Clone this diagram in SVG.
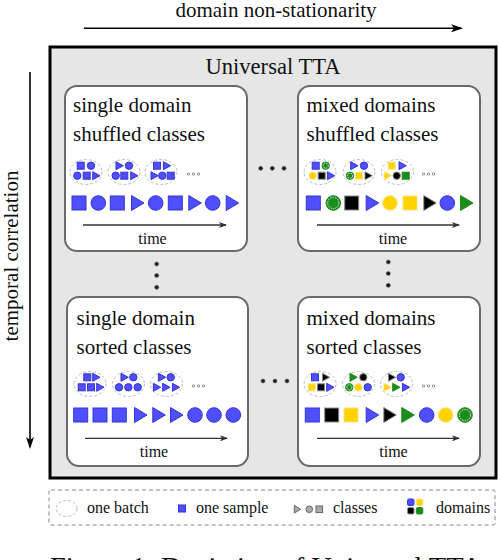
<svg xmlns="http://www.w3.org/2000/svg" xmlns:xlink="http://www.w3.org/1999/xlink" width="498" height="560" viewBox="0 0 498 560">
<style>
text{font-family:"Liberation Serif","Times New Roman",serif;fill:#111}
.t21{font-size:21px}
.t23{font-size:22.6px}
.t16{font-size:16px}
.panel{fill:#fff;stroke:#6a6a6a;stroke-width:2}
.batch{fill:#fff;stroke:#bdbdbd;stroke-width:1;stroke-dasharray:3 2}
.b{fill:#4f4fff;stroke:#3434d8;stroke-width:1}
.y{fill:#ffd200;stroke:#ffe37f;stroke-width:1}
.k{fill:#000;stroke:#8a8a8a;stroke-width:1}
.g{fill:#1c8c1c;stroke:#1c8c1c;stroke-width:1}
.gr{fill:none;stroke:#fff;stroke-width:0.8;stroke-dasharray:1.5 1}
.gy{fill:#aaa;stroke:#666;stroke-width:1}
.ell{fill:none;stroke:#777;stroke-width:0.8}
.sep{fill:#1a1a1a;stroke:#777;stroke-width:0.6}
.ax{stroke:#000;stroke-width:1.6;fill:none}
.tl{stroke:#333;stroke-width:1.3;fill:none}
</style>
<defs>
<rect id="S" x="-7" y="-7" width="14" height="14"/>
<circle id="C" r="7.3"/>
<polygon id="T" points="-5.5,-7.5 7,0 -5.5,7.5"/>
<rect id="s" x="-3.5" y="-3.5" width="7" height="7"/>
<circle id="c" r="3.7"/>
<polygon id="t" points="-3.3,-4 4,0 -3.3,4"/>
<g id="GC"><circle r="7.3" class="g"/><circle r="5.6" class="gr"/></g>
<g id="gc"><circle r="3.7" class="g"/><circle r="2.6" class="gr"/></g>
<marker id="big" viewBox="0 0 12 8" refX="10" refY="4" markerWidth="12" markerHeight="8" markerUnits="userSpaceOnUse" orient="auto">
<path d="M0,0 L12,4 L0,8 L3,4 z" fill="#000"/>
</marker>
<marker id="sm" viewBox="0 0 8 6" refX="7" refY="3" markerWidth="8" markerHeight="6" markerUnits="userSpaceOnUse" orient="auto">
<path d="M0,0 L8,3 L0,6 L2,3 z" fill="#333"/>
</marker>
</defs>

<g id="axes">
<text class="t21" x="276" y="17" text-anchor="middle">domain non-stationarity</text>
<line class="ax" x1="84" y1="28.3" x2="461" y2="28.3" marker-end="url(#big)"/>
<text class="t21" transform="translate(18,256) rotate(-90)" text-anchor="middle">temporal correlation</text>
<line class="ax" x1="30" y1="72" x2="30" y2="447" marker-end="url(#big)"/>
</g>

<g id="universal">
<rect x="50" y="47" width="446" height="431" fill="#e6e6e6" stroke="#000" stroke-width="3"/>
<text class="t23" x="273" y="73.5" text-anchor="middle">Universal TTA</text>
</g>

<g id="connectors">
<circle class="sep" cx="260.7" cy="168.3" r="2.1"/><circle class="sep" cx="272.3" cy="168.3" r="2.1"/><circle class="sep" cx="284" cy="168.3" r="2.1"/>
<circle class="sep" cx="263" cy="381" r="2.1"/><circle class="sep" cx="275" cy="381" r="2.1"/><circle class="sep" cx="287" cy="381" r="2.1"/>
<circle class="sep" cx="156.7" cy="264" r="2.1"/><circle class="sep" cx="156.7" cy="275.5" r="2.1"/><circle class="sep" cx="156.7" cy="287.3" r="2.1"/>
<circle class="sep" cx="388.3" cy="262" r="2.1"/><circle class="sep" cx="388.3" cy="273.5" r="2.1"/><circle class="sep" cx="388.3" cy="285.3" r="2.1"/>
</g>

<g id="panel-single-shuffled">
<rect class="panel" x="65" y="86" width="182" height="165" rx="12"/>
<text class="t21" x="73" y="112">single domain</text>
<text class="t21" x="73" y="140.5">shuffled classes</text>
<ellipse class="batch" cx="86" cy="172" rx="16" ry="12.5"/>
<use href="#s" class="b" x="80.7" y="165.7"/><use href="#c" class="b" x="91" y="165.7"/><use href="#c" class="b" x="77.3" y="175.7"/><use href="#s" class="b" x="86.7" y="175.7"/><use href="#t" class="b" x="96" y="175.7"/>
<ellipse class="batch" cx="124" cy="172" rx="16" ry="12.5"/>
<use href="#t" class="b" x="119.3" y="165.7"/><use href="#c" class="b" x="129" y="165.7"/><use href="#c" class="b" x="115.7" y="175.7"/><use href="#s" class="b" x="124.3" y="175.7"/><use href="#t" class="b" x="134" y="175.7"/>
<ellipse class="batch" cx="161" cy="172" rx="16" ry="12.5"/>
<use href="#s" class="b" x="157" y="165.7"/><use href="#t" class="b" x="166.7" y="165.7"/><use href="#t" class="b" x="154.3" y="175.7"/><use href="#c" class="b" x="162.3" y="175.7"/><use href="#s" class="b" x="170.7" y="175.7"/>
<circle class="ell" cx="188.5" cy="174" r="1.2"/><circle class="ell" cx="193.5" cy="174" r="1.2"/><circle class="ell" cx="198.5" cy="174" r="1.2"/>
<use href="#S" class="b" x="79" y="203"/><use href="#C" class="b" x="98.3" y="203"/><use href="#S" class="b" x="117.3" y="203"/><use href="#T" class="b" x="137" y="203"/><use href="#C" class="b" x="155.7" y="203"/><use href="#S" class="b" x="175.3" y="203"/><use href="#T" class="b" x="194.3" y="203"/><use href="#C" class="b" x="212.7" y="203"/><use href="#T" class="b" x="231.7" y="203"/>
<line class="tl" x1="83" y1="225" x2="226" y2="225" marker-end="url(#sm)"/>
<text class="t16" x="152.5" y="244" text-anchor="middle">time</text>
</g>

<g id="panel-mixed-shuffled">
<rect class="panel" x="298" y="86" width="182" height="165" rx="12"/>
<text class="t21" x="306.5" y="112">mixed domains</text>
<text class="t21" x="306.5" y="140.5">shuffled classes</text>
<ellipse class="batch" cx="320" cy="172" rx="16" ry="12.5"/>
<use href="#s" class="b" x="315.7" y="165.7"/><use href="#gc" x="325.7" y="165.7"/><use href="#c" class="y" x="312.7" y="175.7"/><use href="#s" class="k" x="321.7" y="175.7"/><use href="#t" class="b" x="330.7" y="175.7"/>
<ellipse class="batch" cx="359" cy="172" rx="16" ry="12.5"/>
<use href="#t" class="b" x="354" y="165.7"/><use href="#c" class="b" x="364" y="165.7"/><use href="#gc" x="350" y="175.7"/><use href="#s" class="y" x="359" y="175.7"/><use href="#t" class="k" x="368.3" y="175.7"/>
<ellipse class="batch" cx="397.5" cy="172" rx="16" ry="12.5"/>
<use href="#s" class="y" x="391.7" y="165.7"/><use href="#t" class="b" x="402.3" y="165.7"/><use href="#t" class="y" x="387.7" y="175.7"/><use href="#c" class="k" x="396.7" y="175.7"/><use href="#s" class="g" x="405.7" y="175.7"/>
<circle class="ell" cx="423.5" cy="174" r="1.2"/><circle class="ell" cx="428.5" cy="174" r="1.2"/><circle class="ell" cx="433.5" cy="174" r="1.2"/>
<use href="#S" class="b" x="313.3" y="203"/><use href="#GC" x="333.3" y="203"/><use href="#S" class="k" x="351.7" y="203"/><use href="#T" class="b" x="371.7" y="203"/><use href="#C" class="y" x="390" y="203"/><use href="#S" class="y" x="410" y="203"/><use href="#T" class="k" x="429.3" y="203"/><use href="#C" class="b" x="447.3" y="203"/><use href="#T" class="g" x="466" y="203"/>
<line class="tl" x1="317" y1="225" x2="459" y2="225" marker-end="url(#sm)"/>
<text class="t16" x="393" y="244" text-anchor="middle">time</text>
</g>

<g id="panel-single-sorted">
<rect class="panel" x="67" y="297" width="181" height="169" rx="12"/>
<text class="t21" x="76.5" y="325">single domain</text>
<text class="t21" x="76.5" y="353.5">sorted classes</text>
<ellipse class="batch" cx="90" cy="384" rx="16" ry="12.5"/>
<use href="#s" class="b" x="87.3" y="377.3"/><use href="#t" class="b" x="96" y="377.3"/><use href="#s" class="b" x="81.7" y="387.3"/><use href="#s" class="b" x="91" y="387.3"/><use href="#t" class="b" x="100" y="387.3"/>
<ellipse class="batch" cx="128.5" cy="384" rx="16" ry="12.5"/>
<use href="#t" class="b" x="124.3" y="377.3"/><use href="#c" class="b" x="133.3" y="377.3"/><use href="#c" class="b" x="119" y="387.3"/><use href="#c" class="b" x="128.3" y="387.3"/><use href="#c" class="b" x="137.7" y="387.3"/>
<ellipse class="batch" cx="166.5" cy="384" rx="16" ry="12.5"/>
<use href="#t" class="b" x="161.7" y="377.3"/><use href="#c" class="b" x="170.7" y="377.3"/><use href="#t" class="b" x="156.7" y="387.3"/><use href="#t" class="b" x="166" y="387.3"/><use href="#t" class="b" x="175.7" y="387.3"/>
<circle class="ell" cx="193.5" cy="386" r="1.2"/><circle class="ell" cx="198.5" cy="386" r="1.2"/><circle class="ell" cx="203.5" cy="386" r="1.2"/>
<use href="#S" class="b" x="80.7" y="415"/><use href="#S" class="b" x="100" y="415"/><use href="#S" class="b" x="119.3" y="415"/><use href="#T" class="b" x="140" y="415"/><use href="#T" class="b" x="158.3" y="415"/><use href="#T" class="b" x="176" y="415"/><use href="#C" class="b" x="195" y="415"/><use href="#C" class="b" x="214" y="415"/><use href="#C" class="b" x="233.3" y="415"/>
<line class="tl" x1="85" y1="438.3" x2="227" y2="438.3" marker-end="url(#sm)"/>
<text class="t16" x="154" y="457" text-anchor="middle">time</text>
</g>

<g id="panel-mixed-sorted">
<rect class="panel" x="298" y="297" width="182" height="169" rx="12"/>
<text class="t21" x="306.5" y="325">mixed domains</text>
<text class="t21" x="306.5" y="353.5">sorted classes</text>
<ellipse class="batch" cx="320" cy="384" rx="16" ry="12.5"/>
<use href="#s" class="b" x="315" y="377.3"/><use href="#t" class="k" x="325.7" y="377.3"/><use href="#s" class="y" x="311.7" y="387.3"/><use href="#s" class="k" x="321" y="387.3"/><use href="#t" class="b" x="330" y="387.3"/>
<ellipse class="batch" cx="358.5" cy="384" rx="16" ry="12.5"/>
<use href="#t" class="g" x="353.3" y="377.3"/><use href="#c" class="k" x="363.3" y="377.3"/><use href="#gc" x="349.3" y="387.3"/><use href="#c" class="y" x="358.3" y="387.3"/><use href="#c" class="b" x="367.7" y="387.3"/>
<ellipse class="batch" cx="396.5" cy="384" rx="16" ry="12.5"/>
<use href="#t" class="k" x="391.7" y="377.3"/><use href="#c" class="b" x="400.7" y="377.3"/><use href="#t" class="y" x="387.3" y="387.3"/><use href="#t" class="g" x="396" y="387.3"/><use href="#t" class="b" x="405.7" y="387.3"/>
<circle class="ell" cx="423.5" cy="386" r="1.2"/><circle class="ell" cx="428.5" cy="386" r="1.2"/><circle class="ell" cx="433.5" cy="386" r="1.2"/>
<use href="#S" class="b" x="312.3" y="415"/><use href="#S" class="k" x="331.7" y="415"/><use href="#S" class="y" x="351" y="415"/><use href="#T" class="b" x="371.7" y="415"/><use href="#T" class="k" x="389.3" y="415"/><use href="#T" class="g" x="407.3" y="415"/><use href="#C" class="b" x="426.7" y="415"/><use href="#C" class="y" x="445.7" y="415"/><use href="#GC" x="465" y="415"/>
<line class="tl" x1="317" y1="438.3" x2="459" y2="438.3" marker-end="url(#sm)"/>
<text class="t16" x="393.5" y="457" text-anchor="middle">time</text>
</g>

<g id="legend">
<rect x="49" y="490" width="446" height="35" rx="2" fill="#fff" stroke="#888" stroke-width="1" stroke-dasharray="4 3"/>
<ellipse class="batch" cx="66.7" cy="508.5" rx="10.5" ry="8"/>
<text class="t16" x="87" y="513">one batch</text>
<rect class="b" x="178.5" y="505" width="7" height="7"/>
<text class="t16" x="196" y="513">one sample</text>
<polygon class="gy" points="294.3,505.5 300.8,509.3 294.3,513"/>
<circle class="gy" cx="309.3" cy="509.3" r="3.3"/>
<rect class="gy" x="316" y="506" width="6.6" height="6.6"/>
<text class="t16" x="333" y="513">classes</text>
<rect class="b" x="407.5" y="499" width="6.5" height="6.5" rx="1.5"/>
<rect class="y" x="416.3" y="499" width="6.5" height="6.5" rx="1.5"/>
<rect class="k" x="407.5" y="507.5" width="6.5" height="6.5" rx="1.5"/>
<rect class="g" x="416.3" y="507.5" width="6.5" height="6.5" rx="1.5" stroke="#7fc97f"/>
<text class="t16" x="436" y="513">domains</text>
</g>

<g id="caption">
<text x="50" y="576" font-size="28" textLength="432" lengthAdjust="spacingAndGlyphs">Figure 1: Depiction of Universal TTA</text>
</g>
</svg>
